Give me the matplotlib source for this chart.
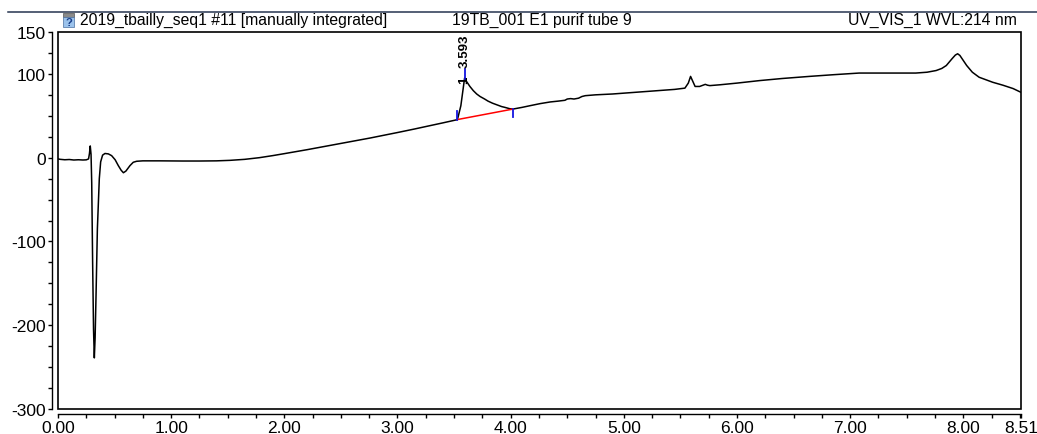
import matplotlib
matplotlib.use('Agg')
import matplotlib.pyplot as plt
from matplotlib.ticker import MultipleLocator, FixedLocator, FixedFormatter
from matplotlib.lines import Line2D
from matplotlib.patches import Rectangle

# ---- data ----
time_min = [0.00, 0.02, 0.06, 0.10, 0.14, 0.18, 0.22, 0.25, 0.27, 0.278, 0.285, 0.292, 0.298,
            0.306, 0.314, 0.321, 0.328, 0.336, 0.348, 0.365, 0.377, 0.394, 0.415, 0.445, 0.474,
            0.505, 0.533, 0.558, 0.578, 0.600, 0.636, 0.665, 0.695, 0.75, 0.90, 1.10, 1.25, 1.40,
            1.52, 1.65, 1.78, 1.90, 2.00, 2.20, 2.40, 2.60, 2.76, 2.90, 3.00, 3.15, 3.29, 3.40,
            3.51, 3.53, 3.56, 3.593, 3.61, 3.64, 3.67, 3.70, 3.73, 3.77, 3.80, 3.84, 3.88, 3.92,
            3.95, 3.99, 4.02, 4.10, 4.17, 4.26, 4.35, 4.42, 4.48, 4.50, 4.53, 4.56, 4.60, 4.63,
            4.66, 4.75, 4.90, 5.00, 5.15, 5.30, 5.45, 5.54, 5.57, 5.59, 5.61, 5.63, 5.67, 5.70,
            5.72, 5.74, 5.76, 5.85, 6.00, 6.20, 6.40, 6.64, 6.85, 7.08, 7.30, 7.58, 7.68, 7.76,
            7.81, 7.85, 7.90, 7.93, 7.95, 7.97, 8.00, 8.03, 8.08, 8.14, 8.20, 8.26, 8.35, 8.44, 8.51]
signal_mAU = [-1.5, -2.0, -2.5, -2.2, -2.8, -2.5, -2.8, -2.6, -1.5, 5, 14, 4, -30,
              -125, -205, -239, -215, -165, -85, -25, -5, 3, 5, 4.5, 2.4,
              -2.5, -9.5, -15, -18, -16, -9.5, -5.5, -4.3, -3.8, -3.8, -4.0, -4.0, -3.8,
              -3.2, -2.0, 0.0, 2.5, 4.8, 9.5, 14.5, 19.5, 23.5, 27.3, 30, 34.2, 38.3, 41.5,
              44.8, 45.5, 62, 95, 91, 85, 80, 76, 73, 70, 67.5, 65, 63, 61,
              60, 58.5, 58, 60, 62, 64.5, 66.5, 67.5, 68.5, 70, 70.5, 70, 71, 73,
              74, 75, 76, 77, 78.5, 80, 81.5, 83, 89, 97, 91, 85, 85, 86.5,
              87.5, 86.5, 86, 87, 89, 92, 94.5, 97, 99, 101, 101, 101, 102, 104,
              106.5, 110, 118, 122.5, 124, 122, 116, 110, 102, 96, 93, 90, 86.5, 82.5, 78]

peak_time = 3.593
peak_number = "1"
peak_label = "3.593"
baseline_time = [3.53, 4.02]
baseline_signal = [45.5, 58]

x_ticks = [0, 1, 2, 3, 4, 5, 6, 7, 8, 8.51]
x_ticklabels = ["0.00", "1.00", "2.00", "3.00", "4.00", "5.00", "6.00", "7.00", "8.00", "8.51"]
y_ticks = [150, 100, 0, -100, -200, -300]
y_ticklabels = ["150", "100", "0", "-100", "-200", "-300"]

title_left = "2019_tbailly_seq1 #11 [manually integrated]"
title_mid = "19TB_001 E1 purif tube 9"
title_right = "UV_VIS_1 WVL:214 nm"

# ---- figure ----
plt.rcParams['font.family'] = ['Liberation Sans', 'DejaVu Sans']
W, H = 1037, 435
fig = plt.figure(figsize=(W / 100, H / 100), dpi=100)
fig.patch.set_facecolor('white')

ax = fig.add_axes([58 / W, 25 / H, 963 / W, 377 / H])
ax.plot(time_min, signal_mAU, color='black', lw=1.1, solid_joinstyle='round')
ax.set_xlim(0, 8.51)
ax.set_ylim(-300, 150)

for s in ['top', 'right']:
    ax.spines[s].set_visible(False)
ax.spines['left'].set_position(('outward', 4.3))
ax.spines['bottom'].set_position(('outward', 3.6))
for s in ['left', 'bottom']:
    ax.spines[s].set_linewidth(1.0)
ax.add_patch(Rectangle((0, 0), 1, 1, transform=ax.transAxes, fill=False,
                       lw=1.2, ec='black', clip_on=False))

ax.xaxis.set_major_locator(FixedLocator(x_ticks))
ax.xaxis.set_major_formatter(FixedFormatter(x_ticklabels))
ax.xaxis.set_minor_locator(MultipleLocator(0.25))
ax.yaxis.set_major_locator(FixedLocator(y_ticks))
ax.yaxis.set_major_formatter(FixedFormatter(y_ticklabels))
ax.yaxis.set_minor_locator(MultipleLocator(25))
ax.tick_params(axis='both', which='both', direction='out', width=1.0, labelsize=12.5)
ax.tick_params(axis='x', which='major', length=3, pad=1.0)
ax.tick_params(axis='x', which='minor', length=3)
ax.tick_params(axis='y', which='major', length=3, pad=1.5)
ax.tick_params(axis='y', which='minor', length=3)

# integration baseline and markers
ax.plot(baseline_time, baseline_signal, color='red', lw=1.1)
ax.plot([baseline_time[0]] * 2, [baseline_signal[0], baseline_signal[0] + 10], color='#1515e0', lw=1.3)
ax.plot([baseline_time[1]] * 2, [baseline_signal[1] - 10, baseline_signal[1]], color='#1515e0', lw=1.3)
peak_val = signal_mAU[time_min.index(peak_time)]
ax.plot([peak_time] * 2, [peak_val - 1, peak_val + 11], color='#1515e0', lw=1.3)
ax.text(peak_time - 0.005, peak_val - 2, peak_number, rotation=90, ha='center', va='center',
        fontsize=9.5, fontweight='bold')
ax.text(peak_time, peak_val + 13, peak_label, rotation=90, ha='center', va='bottom',
        fontsize=9.5, fontweight='bold')

# header
fig.add_artist(Line2D([8 / W, 1.0], [1 - 12.5 / H] * 2, color='#26344f', lw=1.1))
ty = 1 - 20 / H
fig.text(80 / W, ty, title_left, ha='left', va='center', fontsize=11.3)
fig.text(452 / W, ty, title_mid, ha='left', va='center', fontsize=11.3)
fig.text(1017 / W, ty, title_right, ha='right', va='center', fontsize=11.3)
# small icon
fig.add_artist(Rectangle((63 / W, 1 - 18 / H), 11 / W, 4 / H, fc='#8a8a8a', ec='#555555', lw=0.5))
fig.add_artist(Rectangle((63 / W, 1 - 28 / H), 11 / W, 10 / H, fc='#9cc3ec', ec='#4a6fa0', lw=0.5))
fig.text(68.5 / W, 1 - 23.3 / H, "?", ha='center', va='center', fontsize=8, color='#1a3f8a',
         fontweight='bold')

fig.savefig('out.png', dpi=100)
